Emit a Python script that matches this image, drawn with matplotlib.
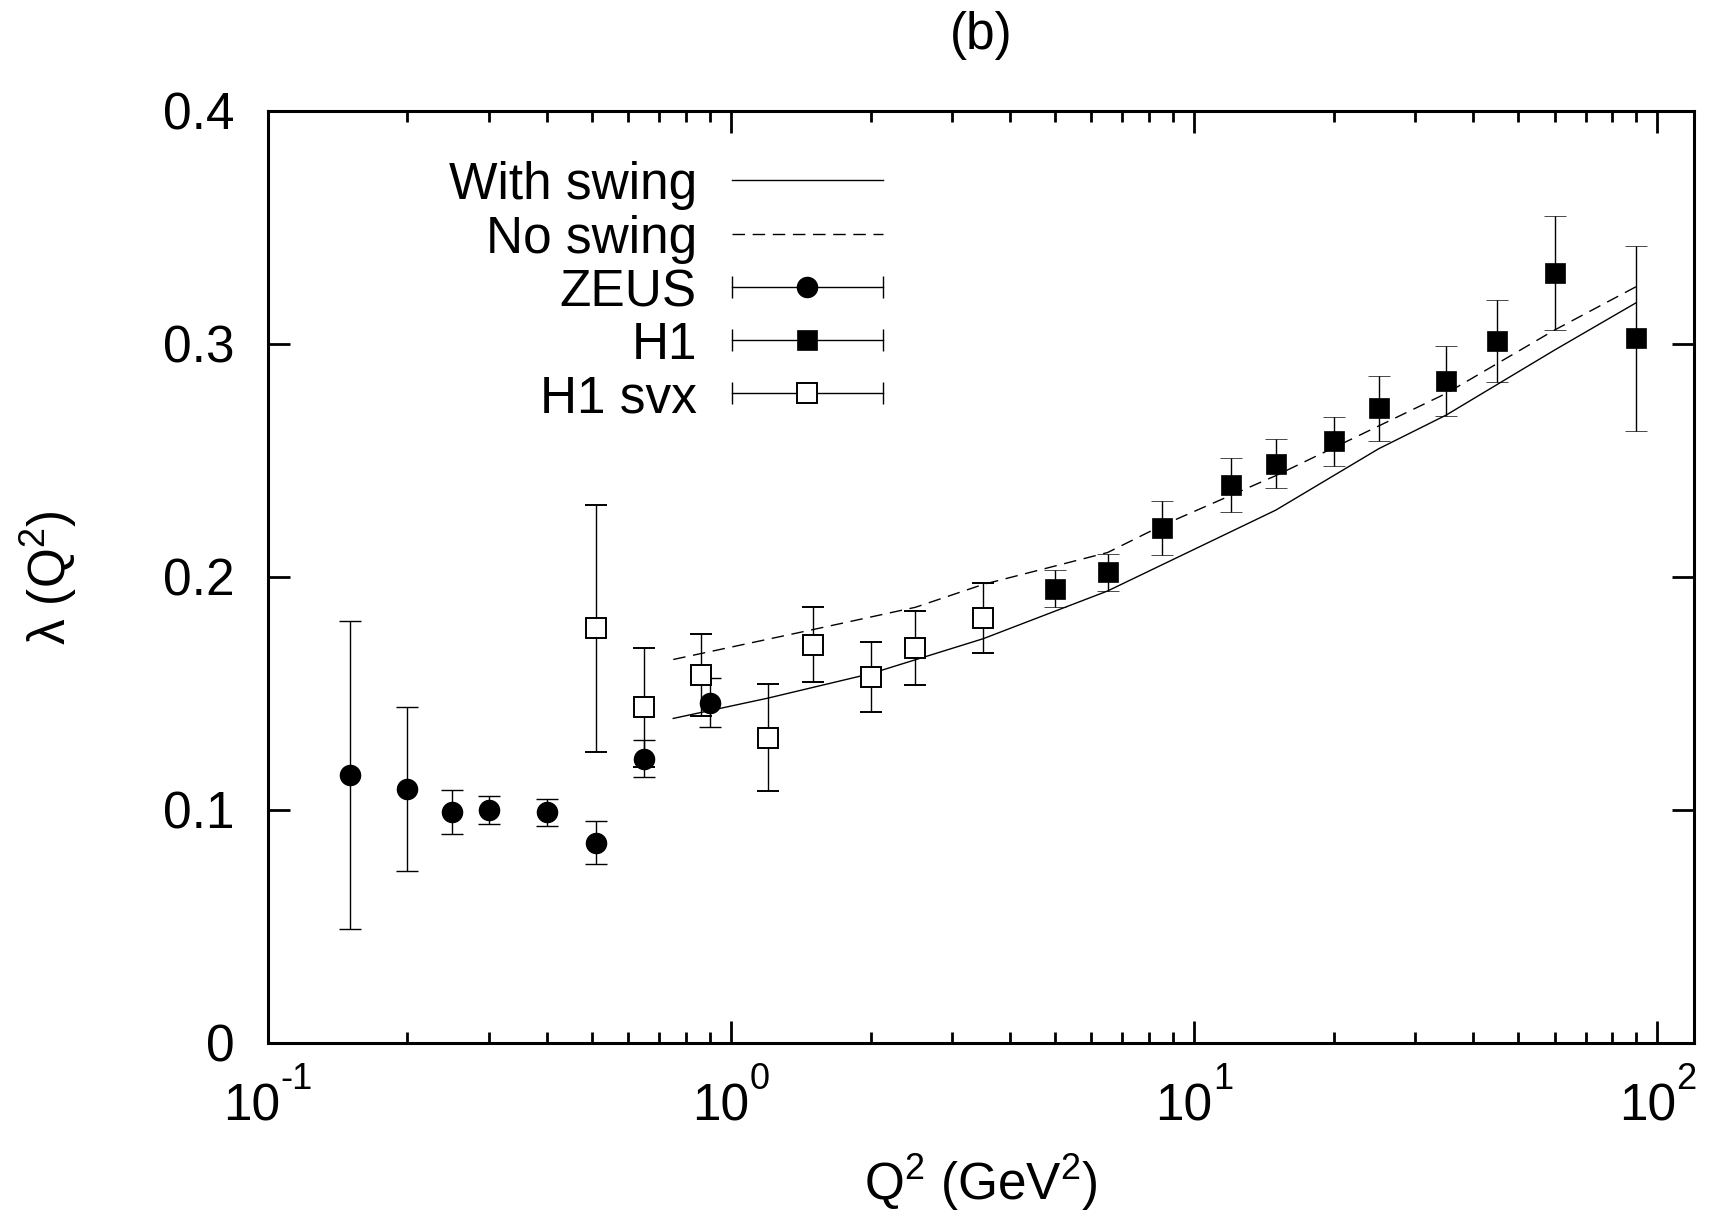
import numpy as np
import matplotlib
matplotlib.use("Agg")
matplotlib.rcParams.update({
    "font.family": ["Liberation Sans", "DejaVu Sans"],
    "mathtext.fontset": "custom",
    "mathtext.rm": "Liberation Sans",
    "mathtext.it": "Liberation Sans:italic",
    "mathtext.bf": "Liberation Sans:bold",
    "font.size": 37,
})
import matplotlib.pyplot as plt
from matplotlib.ticker import LogLocator, FixedLocator, NullFormatter

# ---- data ------------------------------------------------------------------
zeus_q = [0.15, 0.2, 0.25, 0.3, 0.4, 0.51, 0.65, 0.9]
zeus_lam = [0.115, 0.109, 0.099, 0.100, 0.099, 0.086, 0.122, 0.146]
zeus_err = [0.066, 0.035, 0.0095, 0.0058, 0.0058, 0.0093, 0.008, 0.0105]

h1_q = [5, 6.5, 8.5, 12, 15, 20, 25, 35, 45, 60, 90]
h1_lam = [0.195, 0.202, 0.221, 0.2395, 0.2487, 0.2583, 0.2724, 0.2841,
          0.3013, 0.3304, 0.3024]
h1_err = [0.008, 0.008, 0.0115, 0.0116, 0.0105, 0.0105, 0.0139, 0.015,
          0.0174, 0.0244, 0.0396]

svx_q = [0.51, 0.65, 0.86, 1.2, 1.5, 2.0, 2.5, 3.5]
svx_lam = [0.178, 0.144, 0.158, 0.131, 0.171, 0.157, 0.1695, 0.1824]
svx_err = [0.053, 0.0255, 0.0175, 0.023, 0.016, 0.015, 0.016, 0.015]

swing_q = [0.75, 1.2, 2.0, 3.5, 6.5, 15, 25, 35, 60, 90]
swing_lam = [0.1393, 0.148, 0.1585, 0.1735, 0.194, 0.2287, 0.255, 0.2695,
             0.2974, 0.3177]

noswing_q = [0.75, 1.5, 2.5, 3.5, 6.5, 8.5, 15, 35, 60, 90]
noswing_lam = [0.1646, 0.1774, 0.187, 0.1968, 0.2105, 0.222, 0.2435, 0.2788,
               0.306, 0.3246]

xtick_pos = [0.1, 1, 10, 100]
xtick_exp = ["-1", "0", "1", "2"]
ytick_pos = [0, 0.1, 0.2, 0.3, 0.4]
ytick_lab = ["0", "0.1", "0.2", "0.3", "0.4"]

W, H = 1709, 1210
fig = plt.figure(figsize=(W / 100, H / 100), dpi=100)
ax = fig.add_axes([268 / W, 1 - 1043 / H, (1694 - 268) / W, (1043 - 111) / H])

LW = 1.0
CAP = 8
DASH = (9, 5.5)
FS = 37

ax.plot(swing_q, swing_lam, color="k", lw=LW, zorder=2)
ax.plot(noswing_q, noswing_lam, color="k", lw=LW, dashes=DASH, zorder=2)

ax.errorbar(zeus_q, zeus_lam, yerr=zeus_err, fmt="o", ms=14.5, mfc="k", mec="k",
            mew=1, ecolor="k", elinewidth=LW, capsize=CAP, capthick=LW, zorder=3)
ax.errorbar(h1_q, h1_lam, yerr=h1_err, fmt="s", ms=15, mfc="k", mec="k",
            mew=0.5, ecolor="k", elinewidth=LW, capsize=CAP, capthick=LW, zorder=3)
ax.errorbar(svx_q, svx_lam, yerr=svx_err, fmt="s", ms=14.5, mfc="white", mec="k",
            mew=1.4, ecolor="k", elinewidth=LW, capsize=CAP, capthick=LW, zorder=4)

ax.set_xscale("log")
ax.set_xlim(0.1, 120)
ax.set_ylim(0, 0.4)
ax.xaxis.set_major_locator(FixedLocator(xtick_pos))
ax.xaxis.set_major_formatter(NullFormatter())
ax.xaxis.set_minor_locator(LogLocator(base=10, subs=np.arange(2, 10), numticks=20))
ax.xaxis.set_minor_formatter(NullFormatter())
ax.set_yticks(ytick_pos)
ax.set_yticklabels(ytick_lab)

for s in ax.spines.values():
    s.set_linewidth(2.2)
ax.tick_params(which="both", direction="in", top=True, right=True, width=2)
ax.tick_params(which="major", length=16)
ax.tick_params(which="minor", length=8)
ax.tick_params(axis="y", pad=24, labelsize=FS)

# gnuplot-like "10^n" tick labels: base and raised exponent as separate texts
EXP_FS = 26
for q, e in zip(xtick_pos, xtick_exp):
    w_base = 1.112 * FS
    w_exp = 0.556 * EXP_FS * len(e) - (0.223 * EXP_FS if e.startswith("-") else 0)
    left = -(w_base + w_exp) / 2
    ax.annotate("10", xy=(q, 0), xycoords=("data", "axes fraction"),
                xytext=(left, -55.5), textcoords="offset points",
                ha="left", va="baseline", fontsize=FS, annotation_clip=False)
    ax.annotate(e, xy=(q, 0), xycoords=("data", "axes fraction"),
                xytext=(left + w_base, -33), textcoords="offset points",
                ha="left", va="baseline", fontsize=EXP_FS, annotation_clip=False)

# gnuplot-style key: text right-aligned, sample on the right
entries = ["With swing", "No swing", "ZEUS", "H1", "H1 svx"]
rows = [0.926, 0.868, 0.811, 0.754, 0.697]
tx, x0, x1, xm = 0.3008, 0.3254, 0.4315, 0.378
for name, y in zip(entries, rows):
    ax.text(tx, y, name, transform=ax.transAxes, ha="right", va="center_baseline",
            fontsize=FS)
    if name == "With swing":
        ax.plot([x0, x1], [y, y], transform=ax.transAxes, color="k", lw=LW)
    elif name == "No swing":
        ax.plot([x0, x1], [y, y], transform=ax.transAxes, color="k", lw=LW,
                dashes=DASH)
    else:
        ax.plot([x0, x1], [y, y], transform=ax.transAxes, color="k", lw=LW,
                marker="|", ms=16, mew=LW)
        if name == "ZEUS":
            ax.plot([xm], [y], transform=ax.transAxes, marker="o", ms=14.5,
                    color="k", mew=1)
        elif name == "H1":
            ax.plot([xm], [y], transform=ax.transAxes, marker="s", ms=15,
                    color="k", mew=0.5)
        else:
            ax.plot([xm], [y], transform=ax.transAxes, marker="s", ms=14.5,
                    mfc="white", mec="k", mew=1.4)

fig.text(981 / W, 1 - 35 / H, "(b)", ha="center", va="center", fontsize=FS)
fig.text(981 / W, 10 / H, r"Q$^{2}$ (GeV$^{2}$)", ha="center", va="baseline",
         fontsize=FS)
fig.text(49 / W, 1 - 578 / H, r"λ (Q$^{2}$)", ha="center", va="center",
         rotation=90, fontsize=FS)

fig.savefig("out.png", dpi=100)
